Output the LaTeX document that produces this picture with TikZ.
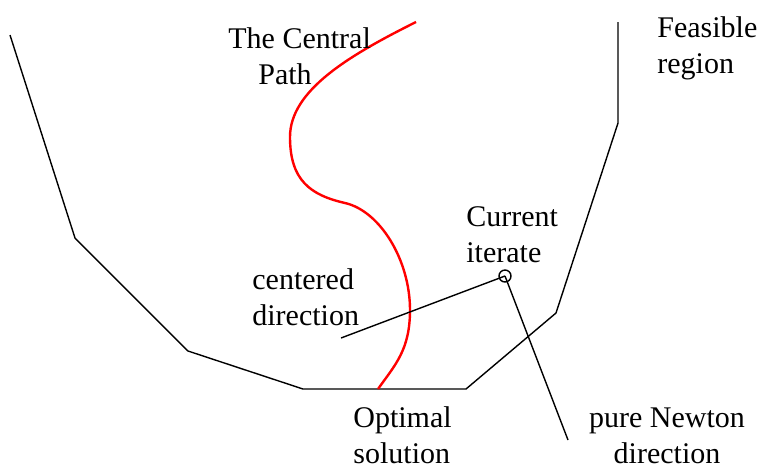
\documentclass[tikz,border=0pt]{standalone}
\usepackage{fontspec}
\setmainfont{Liberation Serif}
\usepackage{xcolor}

\begin{document}
\begin{tikzpicture}[
        x=0.5pt, y=-0.5pt,
        lbl/.style={inner sep=0pt, align=left, font=\fontsize{15}{18}\selectfont},
        edge/.style={line width=0.7pt},
        cpath/.style={red, line width=1.2pt}
    ]
    \useasboundingbox (0,0) rectangle (760,468);
    % feasible region
    \draw[edge] (10,35) -- (75,238) -- (188,351) -- (303,389) -- (466,389)
        -- (556,313) -- (618,123) -- (618,22);
    % central path
    \draw[cpath] (416,22) .. controls (350,55) and (290,90) .. (290,137)
        .. controls (290,180) and (310,195) .. (345,203)
        .. controls (380,211) and (410,260) .. (410,310)
        .. controls (410,350) and (395,365) .. (378,389);
    \node[lbl, anchor=north west] (central) at (228,27) {The Central\\\hspace*{15pt}Path};
    \node[lbl, anchor=north west] (feasible) at (657,16) {Feasible\\region};
    \node[lbl, anchor=north west] (current) at (466,206) {Current\\iterate};
    \node[lbl, anchor=north west] (centered) at (252,268) {centered\\direction};
    \node[lbl, anchor=north west] (optimal) at (353,406) {Optimal\\solution};
    \node[lbl, align=center, anchor=north] (newton) at (667,407) {pure Newton\\direction};
    % iterate and directions
    \node[circle, draw, edge, minimum size=6pt, inner sep=0pt] (iter) at (505,276) {};
    \coordinate (cdir) at (341,338);
    \coordinate (ndir) at (568,440);
    \draw[edge] (iter.center) -- (cdir);
    \draw[edge] (iter.center) -- (ndir);
\end{tikzpicture}
\end{document}
